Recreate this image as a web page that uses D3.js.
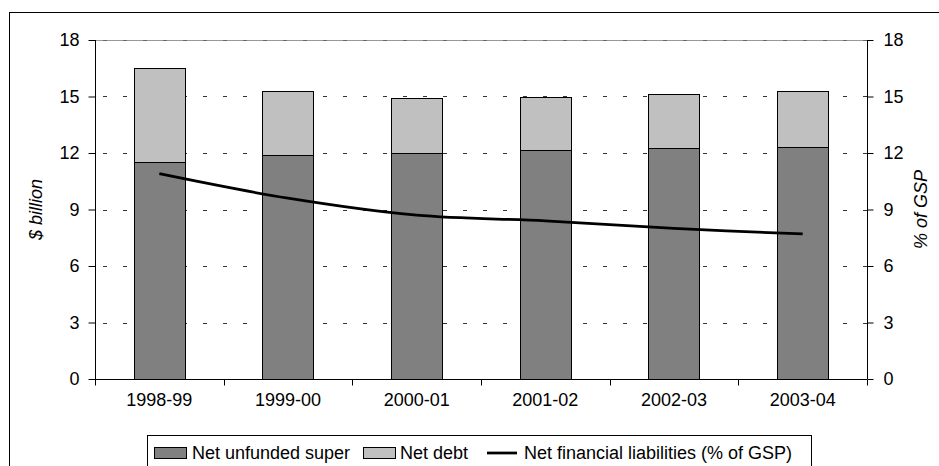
<!DOCTYPE html>
<html>
<head>
<meta charset="utf-8">
<script src="https://cdn.jsdelivr.net/npm/d3@7/dist/d3.min.js"></script>
<style>
  html, body { margin: 0; padding: 0; background: #fff; }
  svg { display: block; font-family: "Liberation Sans", Arial, sans-serif; }
</style>
</head>
<body>
<svg id="chart" width="939" height="466"></svg>
<script>
const categories = ["1998-99", "1999-00", "2000-01", "2001-02", "2002-03", "2003-04"];
const netUnfundedSuper = [11.5, 11.9, 12.0, 12.15, 12.25, 12.3];
const netDebt = [5.0, 3.4, 2.9, 2.8, 2.9, 3.0];
const netFinancialLiabilitiesPctGSP = [10.9, 9.6, 8.7, 8.4, 8.0, 7.7];
const yTicks = [0, 3, 6, 9, 12, 15, 18];
const seriesNames = ["Net unfunded super", "Net debt", "Net financial liabilities (% of GSP)"];

const svg = d3.select("#chart");
const m = { left: 95, right: 867, top: 40, bottom: 379 };
const fontSize = 18;

// outer border
svg.append("rect").attr("x", 9.5).attr("y", 12.5).attr("width", 940).attr("height", 470)
  .attr("fill", "none").attr("stroke", "#000").attr("stroke-width", 1);

const x = d3.scaleBand().domain(categories).range([m.left, m.right]).padding(0);
const yL = d3.scaleLinear().domain([0, 18]).range([m.bottom, m.top]);
const yR = d3.scaleLinear().domain([0, 18]).range([m.bottom, m.top]);

// gridlines
const grid = svg.append("g");
grid.selectAll("line.g").data(yTicks.filter(d => d > 0 && d < 18)).join("line")
  .attr("x1", m.left).attr("x2", m.right)
  .attr("y1", d => Math.round(yL(d)) + 0.5).attr("y2", d => Math.round(yL(d)) + 0.5)
  .attr("stroke", "#333").attr("stroke-width", 1).attr("stroke-dasharray", "4,16")
  .attr("stroke-dashoffset", -8);
grid.append("line").attr("x1", m.left).attr("x2", m.right)
  .attr("y1", Math.round(yL(18)) + 0.5).attr("y2", Math.round(yL(18)) + 0.5)
  .attr("stroke", "#999").attr("stroke-width", 1);
grid.append("line").attr("x1", m.left).attr("x2", m.right)
  .attr("y1", Math.round(yL(18)) + 0.5).attr("y2", Math.round(yL(18)) + 0.5)
  .attr("stroke", "#666").attr("stroke-width", 1).attr("stroke-dasharray", "4,16")
  .attr("stroke-dashoffset", -8);

// stacked bars
const stackData = categories.map((c, i) => ({ cat: c, super: netUnfundedSuper[i], debt: netDebt[i] }));
const stack = d3.stack().keys(["super", "debt"])(stackData);
const colors = { super: "#808080", debt: "#C0C0C0" };
const bw = x.bandwidth() * 0.4;
const bars = svg.append("g");
stack.forEach(layer => {
  bars.selectAll(null).data(layer).join("rect")
    .attr("x", d => Math.round(x(d.data.cat) + (x.bandwidth() - bw) / 2) + 0.5)
    .attr("width", Math.round(bw))
    .attr("y", d => Math.round(yL(d[1])) + 0.5)
    .attr("height", d => Math.round(yL(d[0])) - Math.round(yL(d[1])))
    .attr("fill", colors[layer.key])
    .attr("stroke", "#000").attr("stroke-width", 1);
});

// axes
const axL = svg.append("g").attr("transform", `translate(${m.left + 0.5},0)`)
  .call(d3.axisLeft(yL).tickValues(yTicks).tickSize(7).tickPadding(9).tickFormat(d3.format("d")));
const axR = svg.append("g").attr("transform", `translate(${m.right + 0.5},0)`)
  .call(d3.axisRight(yR).tickValues(yTicks).tickSize(6).tickPadding(10).tickFormat(d3.format("d")));
const axB = svg.append("g").attr("transform", `translate(0,${m.bottom + 0.5})`)
  .call(d3.axisBottom(x).tickSize(0).tickPadding(14));
[axL, axR, axB].forEach(a => {
  a.select(".domain").attr("stroke", "#000");
  a.selectAll(".tick line").attr("stroke", "#000");
  a.selectAll("text").attr("font-size", fontSize).attr("fill", "#000")
    .attr("font-family", "'Liberation Sans', Arial, sans-serif");
});
axL.select(".domain").attr("d", `M0,${m.top}V${m.bottom}`);
axR.select(".domain").attr("d", `M0,${m.top}V${m.bottom}`);
axB.select(".domain").attr("d", `M${m.left},0H${m.right}`);
axB.selectAll("line.bt").data(d3.range(categories.length + 1)).join("line")
  .attr("x1", i => Math.round(m.left + i * x.step()) + 0.5)
  .attr("x2", i => Math.round(m.left + i * x.step()) + 0.5)
  .attr("y1", 0).attr("y2", 6).attr("stroke", "#000");

// line series
const line = d3.line()
  .x((d, i) => x(categories[i]) + x.bandwidth() / 2)
  .y(d => yR(d))
  .curve(d3.curveCatmullRom.alpha(0.5));
svg.append("path").datum(netFinancialLiabilitiesPctGSP)
  .attr("d", line).attr("fill", "none").attr("stroke", "#000").attr("stroke-width", 2.75);

// axis titles
svg.append("text").attr("transform", `translate(42,${(m.top + m.bottom) / 2}) rotate(-90)`)
  .attr("text-anchor", "middle").attr("font-size", fontSize).attr("font-style", "italic")
  .text("$ billion");
svg.append("text").attr("transform", `translate(927,${(m.top + m.bottom) / 2}) rotate(-90)`)
  .attr("text-anchor", "middle").attr("font-size", fontSize).attr("font-style", "italic")
  .text("% of GSP");

// legend
const lg = svg.append("g");
lg.append("rect").attr("x", 147.5).attr("y", 435.5).attr("width", 664).attr("height", 40)
  .attr("fill", "#fff").attr("stroke", "#000");
const ly = 453;
const items = [
  { name: seriesNames[0], type: "rect", color: colors.super, sx: 154, tx: 192 },
  { name: seriesNames[1], type: "rect", color: colors.debt, sx: 363, tx: 400 },
  { name: seriesNames[2], type: "line", sx: 487, tx: 524 }
];
items.forEach(it => {
  if (it.type === "rect") {
    lg.append("rect").attr("x", it.sx + 0.5).attr("y", ly - 5.5).attr("width", 32).attr("height", 11)
      .attr("fill", it.color).attr("stroke", "#000");
  } else {
    lg.append("line").attr("x1", it.sx).attr("x2", it.sx + 30).attr("y1", ly).attr("y2", ly)
      .attr("stroke", "#000").attr("stroke-width", 2.75);
  }
  lg.append("text").attr("x", it.tx).attr("y", ly).attr("dy", "0.35em")
    .attr("font-size", fontSize).text(it.name);
});
</script>
</body>
</html>
